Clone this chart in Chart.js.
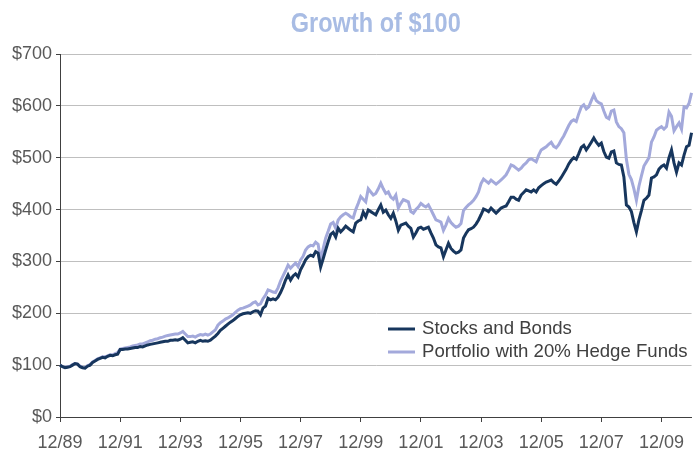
<!DOCTYPE html>
<html>
<head>
<meta charset="utf-8">
<script src="https://cdn.jsdelivr.net/npm/chart.js@4.4.0/dist/chart.umd.min.js"></script>
<style>
  body { margin: 0; background: #fff; }
  #wrap { width: 694px; height: 450px; }
</style>
</head>
<body>
<div id="wrap"><canvas id="growth"></canvas></div>
<script>
// month labels 12/89 .. 12/10
const months = [];
for (let m = 0; m <= 252; m++) {
  const mo = (11 + m) % 12 + 1;
  const yr = (1989 + Math.floor((11 + m) / 12)) % 100;
  months.push(mo + '/' + String(yr).padStart(2, '0'));
}

// growth of $100, monthly
const stocksBonds = [100,
  97, 95, 96, 97, 100, 103, 102, 97, 95, 94, 98, 100,
  105, 108, 111, 113, 115, 114, 117, 119, 118, 120, 121, 130,
  130, 131, 131, 132, 133, 134, 134, 136, 135, 137, 139, 140,
  141, 142, 143, 144, 145, 146, 146, 148, 148, 149, 148, 150,
  153, 148, 143, 144, 145, 143, 146, 148, 146, 147, 146, 148,
  152, 156, 161, 167, 171, 175, 179, 183, 186, 190, 194, 197,
  199, 200, 201, 200, 203, 205, 204, 197, 210, 214, 229, 226,
  228, 226, 231, 240, 251, 264, 274, 264, 272, 276, 270, 284,
  293, 303, 309, 312, 310, 319, 316, 289, 305, 322, 338, 352,
  356, 347, 364, 357, 362, 368, 364, 360, 357, 374, 378, 380,
  395, 386, 399, 396, 393, 390, 400, 409, 395, 399, 390, 383,
  393, 378, 360, 370, 372, 374, 368, 364, 347, 355, 364, 366,
  362, 364, 366, 355, 345, 332, 328, 326, 309, 322, 335, 325,
  320, 316, 318, 322, 345, 354, 361, 363, 366, 372, 380, 390,
  401, 399, 396, 403, 398, 393, 398, 403, 405, 407, 415, 424,
  424, 420, 418, 428, 433, 438, 436, 434, 438, 434, 442, 446,
  450, 453, 455, 457, 452, 449, 455, 462, 470, 478, 488, 495,
  500, 497, 508, 520, 524, 515, 522, 530, 538, 530, 524, 528,
  512, 501, 499, 511, 513, 490, 487, 486, 463, 409, 405, 396,
  375, 357, 380, 398, 418, 422, 428, 461, 463, 467, 478, 483,
  486, 480, 500, 515, 490, 472, 490, 486, 505, 521, 524, 548];

const hedgeFunds = [100,
  97, 96, 97, 98, 101, 103, 102, 98, 96, 95, 99, 101,
  106, 109, 112, 114, 116, 116, 118, 120, 120, 122, 124, 131,
  132, 133, 134, 135, 137, 138, 139, 141, 141, 143, 145, 147,
  148, 150, 151, 153, 154, 156, 157, 158, 159, 160, 160, 162,
  165, 160, 155, 155, 156, 154, 157, 159, 158, 160, 158, 160,
  164, 168, 177, 182, 185, 189, 191, 194, 197, 202, 206, 209,
  210, 212, 214, 216, 220, 222, 216, 218, 228, 235, 245, 243,
  241, 240, 249, 262, 272, 282, 293, 287, 292, 297, 290, 303,
  310, 322, 328, 331, 330, 337, 333, 302, 325, 345, 358, 372,
  375, 364, 380, 386, 390, 393, 390, 386, 384, 400, 412, 425,
  420, 415, 440, 434, 428, 431, 440, 451, 440, 431, 434, 424,
  420, 428, 403, 412, 419, 417, 415, 396, 393, 400, 405, 412,
  408, 405, 409, 400, 390, 380, 378, 376, 360, 370, 383, 375,
  370, 366, 368, 373, 398, 404, 409, 413, 418, 425, 434, 450,
  459, 455, 451, 457, 453, 449, 453, 457, 462, 467, 476, 486,
  484, 480, 476, 480, 486, 490, 496, 498, 495, 492, 505, 515,
  518, 521, 526, 530, 522, 519, 525, 534, 542, 552, 562, 570,
  573, 570, 585, 598, 602, 594, 598, 610, 621, 610, 606, 604,
  590, 578, 575, 590, 592, 569, 560, 556, 548, 497, 468, 458,
  440, 418, 445, 465, 484, 492, 500, 530, 540, 553, 557, 560,
  555, 560, 588, 580, 552, 560, 567, 555, 598, 596, 605, 625];

const seriesNames = ['Stocks and Bonds', 'Portfolio with 20% Hedge Funds'];
const chartTitle = 'Growth of $100';

const axisColor = '#404040';
const labelFont = { family: '"Liberation Sans", Arial, sans-serif', size: 18 };

// title: bold, squeezed like Arial Narrow, centred on the plot area
const narrowTitle = {
  id: 'narrowTitle',
  afterDraw(chart) {
    const ctx = chart.ctx;
    const area = chart.chartArea;
    ctx.save();
    ctx.font = 'bold 28px "Liberation Sans", Arial, sans-serif';
    ctx.fillStyle = '#A8BCE4';
    ctx.textAlign = 'center';
    ctx.textBaseline = 'alphabetic';
    const w = ctx.measureText(chartTitle).width;
    const sx = 170 / w;
    ctx.translate((area.left + area.right) / 2, 32);
    ctx.scale(sx, 1);
    ctx.fillText(chartTitle, 0, 0);
    ctx.restore();
  }
};

// legend sits inside the plot, lower right
const insideLegend = {
  id: 'insideLegend',
  afterDatasetsDraw(chart) {
    const ctx = chart.ctx;
    ctx.save();
    ctx.font = '18.6px "Liberation Sans", Arial, sans-serif';
    ctx.textBaseline = 'middle';
    chart.data.datasets.forEach((ds, i) => {
      const y = 329 + i * 23;
      ctx.strokeStyle = ds.borderColor;
      ctx.lineWidth = 3;
      ctx.beginPath();
      ctx.moveTo(388, y);
      ctx.lineTo(415, y);
      ctx.stroke();
      ctx.fillStyle = '#404040';
      ctx.fillText(ds.label, 422, y);
    });
    ctx.restore();
  }
};

new Chart('growth', {
  type: 'line',
  data: {
    labels: months,
    datasets: [{
      label: seriesNames[0],
      data: stocksBonds,
      borderColor: '#17365D',
      borderWidth: 3,
      pointRadius: 0,
      fill: false
    }, {
      label: seriesNames[1],
      data: hedgeFunds,
      borderColor: '#A3A9DB',
      borderWidth: 3,
      pointRadius: 0,
      fill: false
    }]
  },
  options: {
    responsive: true,
    maintainAspectRatio: false,
    animation: false,
    layout: { padding: { top: 54 } },
    scales: {
      x: {
        type: 'category',
        offset: false,
        afterBuildTicks: axis => { axis.ticks = axis.ticks.filter(t => t.value % 24 === 0); },
        afterFit: axis => { axis.height = 33; },
        ticks: { autoSkip: false, maxRotation: 0, padding: 10, color: '#595959', font: labelFont },
        grid: { drawOnChartArea: false, tickLength: 5, tickColor: axisColor },
        border: { color: axisColor, width: 1 }
      },
      y: {
        min: 0,
        max: 700,
        afterFit: axis => { axis.width = 60; },
        ticks: { stepSize: 100, padding: 4, color: '#595959', font: labelFont,
                 callback: v => '$' + v },
        grid: { color: '#BFBFBF', tickLength: 4, tickColor: axisColor },
        border: { color: axisColor, width: 1 }
      }
    },
    plugins: {
      legend: { display: false },
      tooltip: { enabled: false },
      title: { display: false }
    }
  },
  plugins: [narrowTitle, insideLegend]
});
</script>
</body>
</html>
